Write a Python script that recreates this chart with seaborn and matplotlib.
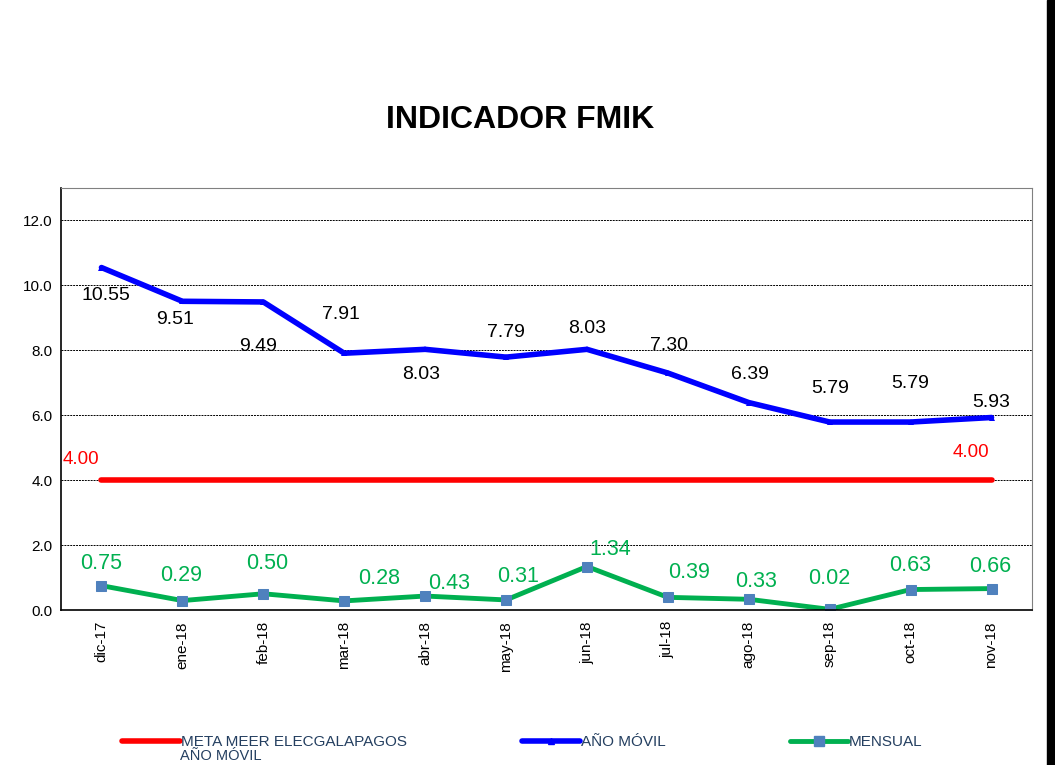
import numpy as np
import pandas as pd
import matplotlib
matplotlib.use("Agg")
import matplotlib.pyplot as plt
from matplotlib.lines import Line2D
from matplotlib.patches import Rectangle
import seaborn as sns

meses = ["dic-17", "ene-18", "feb-18", "mar-18", "abr-18", "may-18",
         "jun-18", "jul-18", "ago-18", "sep-18", "oct-18", "nov-18"]
anio_movil = [10.55, 9.51, 9.49, 7.91, 8.03, 7.79, 8.03, 7.30, 6.39, 5.79, 5.79, 5.93]
mensual = [0.75, 0.29, 0.50, 0.28, 0.43, 0.31, 1.34, 0.39, 0.33, 0.02, 0.63, 0.66]
meta = [4.00] * 12

# label offsets in points (dx, dy) -- Excel put them all over the place
off_anio = [(3, -20), (-5, -13), (-4, -32), (-2, 28), (-3, -18), (0, 18),
            (0, 15), (1, 20), (1, 20), (0, 24), (0, 28), (0, 11)]
off_men = [(0, 16), (-1, 18), (3, 22), (25, 16), (17, 9), (9, 17),
           (17, 12), (15, 18), (5, 13), (0, 22), (0, 17), (-1, 16)]

df = pd.DataFrame({"mes": meses, "anio": anio_movil, "mensual": mensual, "meta": meta})
x = np.arange(len(meses))

sns.set_style("white")
plt.rcParams["font.family"] = ["Liberation Sans", "DejaVu Sans"]
plt.rcParams["text.color"] = "black"
plt.rcParams["xtick.color"] = "black"
plt.rcParams["ytick.color"] = "black"

fig = plt.figure(figsize=(10.55, 7.65), dpi=100)
ax = fig.add_axes([61 / 1055, 1 - 610 / 765, (1032 - 61) / 1055, (610 - 188) / 765])

sns.lineplot(x=x, y=df["meta"], ax=ax, color="#ff0000", lw=4, solid_capstyle="round")
sns.lineplot(x=x, y=df["anio"], ax=ax, color="#0000ff", lw=4, marker="^", markersize=4,
             markeredgewidth=0)
sns.lineplot(x=x, y=df["mensual"], ax=ax, color="#00b050", lw=3.5, marker="s", markersize=7,
             markerfacecolor="#4f81bd", markeredgecolor="#4f81bd")

for i, v in enumerate(anio_movil):
    ax.annotate(f"{v:.2f}", (x[i], v), xytext=off_anio[i], textcoords="offset points",
                ha="center", va="center", fontsize=14, color="black")
for i, v in enumerate(mensual):
    ax.annotate(f"{v:.2f}", (x[i], v), xytext=off_men[i], textcoords="offset points",
                ha="center", va="center", fontsize=15.5, color="#00b050")
ax.annotate("4.00", (x[0], meta[0]), xytext=(-15, 15), textcoords="offset points",
            ha="center", va="center", fontsize=13.5, color="#ff0000")
ax.annotate("4.00", (x[-1], meta[-1]), xytext=(-15, 20), textcoords="offset points",
            ha="center", va="center", fontsize=13.5, color="#ff0000")

ax.set_xlim(-0.5, len(meses) - 0.5)
ax.set_ylim(0, 13)
ax.set_yticks(np.arange(0, 13, 2))
ax.set_yticklabels([f"{t:.1f}" for t in np.arange(0, 13, 2)], fontsize=11)
ax.set_xticks(x)
ax.set_xticklabels(meses, rotation=90, fontsize=11)
ax.set_xticks(np.arange(-0.5, len(meses)), minor=True)
ax.tick_params(axis="x", which="major", length=0, pad=8)
ax.tick_params(axis="x", which="minor", length=6, width=1, color="black", direction="out")
ax.tick_params(axis="y", length=0, pad=6)
ax.set_xlabel("")
ax.set_ylabel("")
for t in np.arange(2, 13, 2):
    ax.axhline(t, color="black", lw=0.7, ls=(0, (2, 1)), zorder=0)

ax.spines["left"].set_color("black")
ax.spines["left"].set_linewidth(1.2)
ax.spines["bottom"].set_color("black")
ax.spines["bottom"].set_linewidth(1.2)
ax.spines["top"].set_color("#808080")
ax.spines["right"].set_color("#808080")

fig.text(520 / 1055, 1 - 120 / 765, "INDICADOR FMIK", ha="center", va="center",
         fontsize=23, fontweight="bold", color="black")

leg_color = "#243f60"
items = [
    (Line2D([], [], color="#ff0000", lw=4), "META MEER ELECGALAPAGOS", 122),
    (Line2D([], [], color="#0000ff", lw=4, marker="^", markersize=4), "AÑO MÓVIL", 522),
    (Line2D([], [], color="#00b050", lw=3.5, marker="s", markersize=7,
            markerfacecolor="#4f81bd", markeredgecolor="#4f81bd"), "MENSUAL", 790),
]
for h, lab, px in items:
    lg = fig.legend([h], [lab], loc="center left", bbox_to_anchor=(px / 1055, 1 - 742 / 765),
                    frameon=False, fontsize=11, handlelength=3.8, handletextpad=0.05,
                    borderaxespad=0, borderpad=0)
    for t in lg.get_texts():
        t.set_color(leg_color)
# second line of the first legend entry
fig.text(180 / 1055, 1 - 756 / 765, "AÑO MÓVIL", ha="left", va="center",
         fontsize=10.5, color=leg_color)

fig.add_artist(Rectangle((1047 / 1055, 0), 8 / 1055, 1, transform=fig.transFigure,
                         color="black", zorder=5))

fig.savefig("out.png", dpi=100)
